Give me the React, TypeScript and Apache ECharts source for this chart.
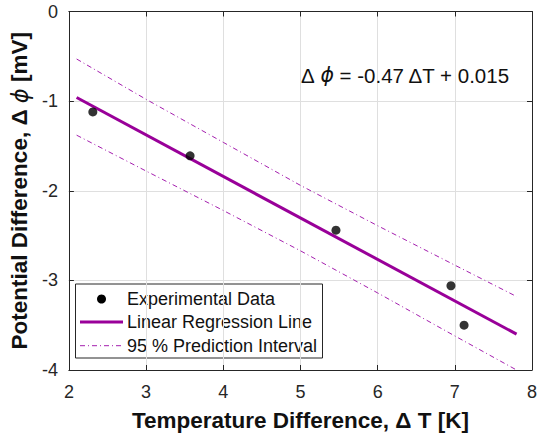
import React, { useEffect, useRef } from 'react';
import * as echarts from 'echarts';

// Experimental data
const expX = [2.31, 3.57, 5.46, 6.95, 7.12];
const expY = [-1.12, -1.61, -2.44, -3.06, -3.5];

// Linear regression line
const fitX = [2.1, 7.8];
const fitY = [-0.96, -3.6];

// 95 % prediction interval
const piX = [2.1, 3, 4, 5, 6, 7, 7.8];
const piUpper = [-0.53, -0.98, -1.46, -1.94, -2.39, -2.83, -3.18];
const piLower = [-1.38, -1.78, -2.22, -2.67, -3.14, -3.62, -4.0];

const xTicks = { min: 2, max: 8, interval: 1 };
const yTicks = { min: -4, max: 0, interval: 1 };

const legendLabels = ['Experimental Data', 'Linear Regression Line', '95 % Prediction Interval'];

export default function App() {
  const ref = useRef<HTMLDivElement>(null);
  useEffect(() => {
    const chart = echarts.init(ref.current!, null, { renderer: 'svg' });
    const font = 'Liberation Sans, Arial, Helvetica, sans-serif';
    const axisColor = '#262626';
    const gridColor = '#dfdfdf';
    const fitColor = '#990099';
    const piColor = '#a41fae';
    const axisLine = { show: true, onZero: false, lineStyle: { color: axisColor, width: 1 } };
    const axisTick = { show: true, inside: true, length: 5, lineStyle: { color: axisColor, width: 1 } };
    const titleStyle = {
      fontSize: 22.5,
      fontWeight: 'bold',
      fontFamily: font,
      color: '#111',
      rich: {
        p: { fontSize: 22.5, fontStyle: 'italic', fontWeight: 'normal', fontFamily: 'DejaVu Sans', color: '#111' },
      },
    };
    const rowY = [299, 322, 345.7];
    chart.setOption({
      animation: false,
      backgroundColor: '#ffffff',
      grid: { left: 64.5, right: 6.7, top: 11.5, bottom: 68 },
      xAxis: [
        {
          type: 'value',
          ...xTicks,
          position: 'bottom',
          name: 'Temperature Difference, Δ T [K]',
          nameLocation: 'middle',
          nameGap: 39,
          nameTextStyle: titleStyle,
          axisLine,
          axisTick,
          axisLabel: { fontSize: 18, color: axisColor, margin: 13, fontFamily: font },
          splitLine: { show: true, lineStyle: { color: gridColor, width: 1 } },
        },
        {
          type: 'value',
          ...xTicks,
          position: 'top',
          axisLine,
          axisTick,
          axisLabel: { show: false },
          splitLine: { show: false },
        },
      ],
      yAxis: [
        {
          type: 'value',
          ...yTicks,
          position: 'left',
          name: 'Potential Difference, Δ {p|ϕ} [mV]',
          nameLocation: 'middle',
          nameGap: 30,
          nameTextStyle: titleStyle,
          axisLine,
          axisTick,
          axisLabel: { fontSize: 18, color: axisColor, margin: 11, fontFamily: font },
          splitLine: { show: true, lineStyle: { color: gridColor, width: 1 } },
        },
        {
          type: 'value',
          ...yTicks,
          position: 'right',
          axisLine,
          axisTick,
          axisLabel: { show: false },
          splitLine: { show: false },
        },
      ],
      series: [
        {
          type: 'line',
          data: piX.map((x, i) => [x, piUpper[i]]),
          symbol: 'none',
          lineStyle: { color: piColor, width: 1, type: [5, 3, 1, 3] },
          z: 2,
        },
        {
          type: 'line',
          data: piX.map((x, i) => [x, piLower[i]]),
          symbol: 'none',
          lineStyle: { color: piColor, width: 1, type: [5, 3, 1, 3] },
          z: 2,
        },
        {
          type: 'line',
          data: fitX.map((x, i) => [x, fitY[i]]),
          symbol: 'none',
          lineStyle: { color: fitColor, width: 3 },
          z: 3,
        },
        {
          type: 'scatter',
          data: expX.map((x, i) => [x, expY[i]]),
          symbol: 'circle',
          symbolSize: 9,
          itemStyle: { color: '#000000' },
          z: 4,
        },
      ],
      graphic: [
        {
          type: 'text',
          x: 301,
          y: 75,
          z: 10,
          style: {
            text: 'Δ {p|ϕ} = -0.47 ΔT + 0.015',
            fontSize: 20.5,
            fontFamily: font,
            fill: '#111',
            verticalAlign: 'middle',
            rich: {
              p: { fontSize: 20.5, fontStyle: 'italic', fontFamily: 'DejaVu Sans', fill: '#111' },
            },
          },
        },
        {
          type: 'group',
          z: 20,
          children: [
            {
              type: 'rect',
              shape: { x: 75.5, y: 284, width: 247, height: 74 },
              style: { fill: '#ffffff', stroke: axisColor, lineWidth: 1 },
            },
            {
              type: 'circle',
              shape: { cx: 101.5, cy: rowY[0], r: 4.5 },
              style: { fill: '#000000' },
            },
            {
              type: 'line',
              shape: { x1: 80, y1: rowY[1], x2: 123, y2: rowY[1] },
              style: { stroke: fitColor, lineWidth: 3 },
            },
            {
              type: 'line',
              shape: { x1: 80, y1: rowY[2], x2: 123, y2: rowY[2] },
              style: { stroke: piColor, lineWidth: 1, lineDash: [5, 3, 1, 3] },
            },
            ...legendLabels.map((t, i) => ({
              type: 'text',
              x: 127,
              y: rowY[i],
              style: { text: t, fontSize: 18, fontFamily: font, fill: '#111', verticalAlign: 'middle' },
            })),
          ],
        },
      ],
    });
    return () => chart.dispose();
  }, []);
  return <div ref={ref} style={{ position: 'absolute', left: 0, top: 0, width: 540, height: 438 }} />;
}
